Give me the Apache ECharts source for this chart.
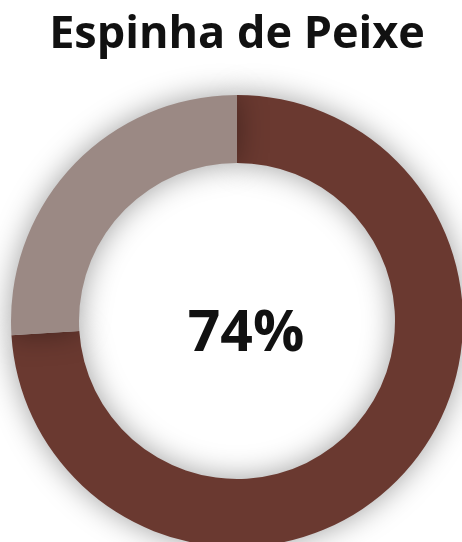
<!DOCTYPE html>
<html>
<head>
<meta charset="utf-8">
<style>
  html, body { margin: 0; padding: 0; background: #ffffff; }
  #chart { width: 462px; height: 542px; }
</style>
<script src="https://cdn.jsdelivr.net/npm/echarts@6/dist/echarts.min.js"></script>
</head>
<body>
<div id="chart"></div>
<script>
// Donut data: completed share vs. remainder
const categories = ['Concluído', 'Restante'];
const values = [74, 26];
const colors = ['#6A3930', '#9B8984'];
const chartTitle = 'Espinha de Peixe';

const total = values.reduce((a, b) => a + b, 0);
const pct = Math.round(values[0] / total * 100) + '%';

const chart = echarts.init(document.getElementById('chart'), null, { renderer: 'canvas' });
chart.setOption({
  backgroundColor: '#ffffff',
  animation: false,
  title: [
    {
      text: chartTitle,
      left: 232,
      top: 8,
      textAlign: 'center',
      textStyle: { fontFamily: 'Open Sans', fontWeight: 'bold', fontSize: 45, color: '#111111' }
    },
    {
      text: pct,
      left: 241,
      top: 330,
      textAlign: 'center',
      textVerticalAlign: 'middle',
      textStyle: { fontFamily: 'Open Sans', fontWeight: 'bold', fontSize: 57, color: '#111111' }
    }
  ],
  series: [{
    type: 'pie',
    center: [237, 321],
    radius: [158, 226],
    startAngle: 90,
    clockwise: true,
    silent: true,
    label: { show: false },
    labelLine: { show: false },
    itemStyle: {
      borderWidth: 0,
      shadowBlur: 30,
      shadowColor: 'rgba(0,0,0,0.38)',
      shadowOffsetX: 0,
      shadowOffsetY: 0
    },
    data: categories.map((name, i) => ({
      name: name,
      value: values[i],
      itemStyle: { color: colors[i] }
    }))
  }]
});
</script>
</body>
</html>
